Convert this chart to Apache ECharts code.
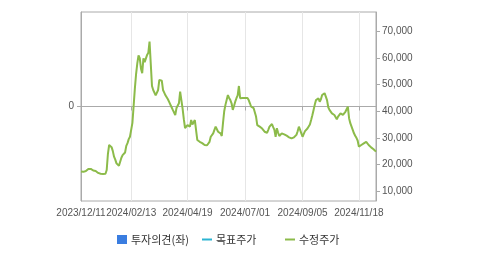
<!DOCTYPE html>
<html>
<head>
<meta charset="utf-8">
<script src="https://cdn.jsdelivr.net/npm/echarts@6/dist/echarts.min.js"></script>
<style>
html,body{margin:0;padding:0;background:#fff;}
#chart{width:479px;height:255px;}
</style>
</head>
<body>
<div id="chart"></div>
<script>
// Trading calendar (KRX holidays) used to build the category axis
const startDate = '2023-12-11';
const holidays = ['2023-12-25','2023-12-29','2024-01-01','2024-02-09','2024-02-12','2024-03-01',
  '2024-04-10','2024-05-01','2024-05-06','2024-05-15','2024-06-06','2024-08-15','2024-09-16',
  '2024-09-17','2024-09-18','2024-10-01','2024-10-03','2024-10-09','2024-12-25'];

// Tick labels shown on the x axis
const tickLabels = ['2023/12/11','2024/02/13','2024/04/19','2024/07/01','2024/09/05','2024/11/18'];

// Right-axis labels
const rightTicks = [10000,20000,30000,40000,50000,60000,70000];

// 수정주가 (adjusted price), one per trading day
const adjPrice = [
17300,17000,17200,17200,17500,17800,18300,18500,18300,17900,
17700,17400,17500,17000,16800,16700,16500,16400,16400,16600,
16500,17900,24000,27300,27000,26500,25000,22900,21800,20400,
20800,19500,19100,22500,23500,23200,24500,27000,28000,29500,
30400,31000,35600,42000,48500,54000,58000,61000,60000,56000,
54300,59900,58500,58200,61200,62000,66200,66800,49500,48000,
47400,46000,45500,48000,51800,51800,51500,48000,47000,46000,
45500,44500,43500,43000,41500,40500,40000,38600,41200,40500,
43000,47400,44200,41000,37000,33700,34000,34800,34500,34200,
36700,35000,35600,36700,36000,29200,28800,28500,28200,28000,
27500,27300,27300,27200,27300,28500,30400,31000,31700,33000,
34200,33500,32300,32000,31700,30700,35500,40000,42400,41700,
46100,45000,44200,43000,40500,42000,43600,44900,46000,49500,
44900,45500,45000,44900,45000,45500,45000,44200,43000,41700,
41500,41200,40500,38000,34800,34500,34200,34000,33500,32800,
32300,32000,31900,33000,34200,34800,35200,34000,33000,30400,
33600,32000,30700,31200,31700,31500,31300,31100,30800,30500,
30200,30000,29800,29900,30200,30800,31100,32500,34200,33000,
31700,30400,31500,32500,33000,33500,34200,35000,36700,38500,
40500,42500,44200,44500,44900,43600,44500,46100,46500,46800,
47000,44200,41500,40500,40000,39200,39000,38600,38000,37000,
38000,38600,39200,38800,38600,39200,39800,40500,41700,37400,
35500,34800,33000,31700,30800,30000,29000,26700,27000,27300,
27500,27900,28200,28500,27800,27300,27000,26400,26200,25700,
25300,24800
];
// 목표주가 / 투자의견: no data shown in the reference
const targetPrice = [];
const opinion = [];

function buildDates(n) {
  const out = [];
  const d = new Date(startDate + 'T00:00:00Z');
  const hol = new Set(holidays);
  while (out.length < n) {
    const iso = d.toISOString().slice(0, 10);
    const wd = d.getUTCDay();
    if (wd !== 0 && wd !== 6 && !hol.has(iso)) out.push(iso.replace(/-/g, '/'));
    d.setUTCDate(d.getUTCDate() + 1);
  }
  return out;
}
const dates = buildDates(adjPrice.length);
const showTick = (i, v) => tickLabels.indexOf(dates[i]) >= 0;

const chart = echarts.init(document.getElementById('chart'), null, {renderer: 'canvas'});
const labelFont = {fontSize: 10, color: '#555', fontFamily: 'Liberation Sans, Arial, sans-serif'};
const legendBase = {
  bottom: 10, itemWidth: 10, itemHeight: 9, itemGap: 6, selectedMode: false,
  textStyle: {fontSize: 11, color: '#333', fontFamily: '"Noto Sans CJK KR", sans-serif', padding: [0,0,0,-1]},
  padding: 0
};
chart.setOption({
  animation: false,
  backgroundColor: '#fff',
  grid: {left: 81, right: 103, top: 12, bottom: 54, show: true, borderColor: '#aaa', borderWidth: 1, backgroundColor: 'transparent'},
  legend: [
    Object.assign({}, legendBase, {left: 117, data: [{name: '투자의견(좌)', icon: 'rect'}]}),
    Object.assign({}, legendBase, {left: 202, data: [{name: '목표주가', icon: 'path://M0,0 L10,0 L10,2 L0,2 Z'}]}),
    Object.assign({}, legendBase, {left: 285, data: [{name: '수정주가', icon: 'path://M0,0 L10,0 L10,2 L0,2 Z'}]})
  ],
  xAxis: {
    type: 'category', data: dates, boundaryGap: false,
    axisLine: {lineStyle: {color: '#aaa', width: 1}},
    axisTick: {show: true, interval: showTick, length: 4, lineStyle: {color: '#aaa'}},
    axisLabel: Object.assign({interval: showTick, margin: 7, hideOverlap: false}, labelFont),
    splitLine: {show: true, interval: showTick, lineStyle: {color: '#e6e6e6', width: 1}}
  },
  yAxis: [
    {
      type: 'value', position: 'left', min: -1, max: 1, interval: 1,
      axisLine: {show: true, lineStyle: {color: '#aaa'}},
      axisTick: {show: true, length: 4, customValues: [0], lineStyle: {color: '#aaa'}},
      axisLabel: Object.assign({customValues: [0], margin: 7}, labelFont),
      splitLine: {show: true, lineStyle: {color: ['transparent', '#e6e6e6', 'transparent'], width: 1}}
    },
    {
      type: 'value', position: 'right', min: 6238, max: 77336,
      axisLine: {show: true, lineStyle: {color: '#aaa'}},
      axisTick: {show: true, length: 4, customValues: rightTicks, lineStyle: {color: '#aaa'}},
      axisLabel: Object.assign({customValues: rightTicks, margin: 6,
        formatter: v => v.toLocaleString('en-US')}, labelFont),
      splitLine: {show: false}
    }
  ],
  series: [
    {name: '투자의견(좌)', type: 'bar', yAxisIndex: 0, data: opinion, itemStyle: {color: '#3a7de0'}},
    {name: '목표주가', type: 'line', yAxisIndex: 1, data: targetPrice, itemStyle: {color: '#2cb4d2'}, lineStyle: {color: '#2cb4d2', width: 2}, showSymbol: false},
    {name: '수정주가', type: 'line', yAxisIndex: 1, data: adjPrice, showSymbol: false,
      itemStyle: {color: '#8cbb4a'}, lineStyle: {color: '#8cbb4a', width: 2}, z: 3}
  ]
});
</script>
</body>
</html>
